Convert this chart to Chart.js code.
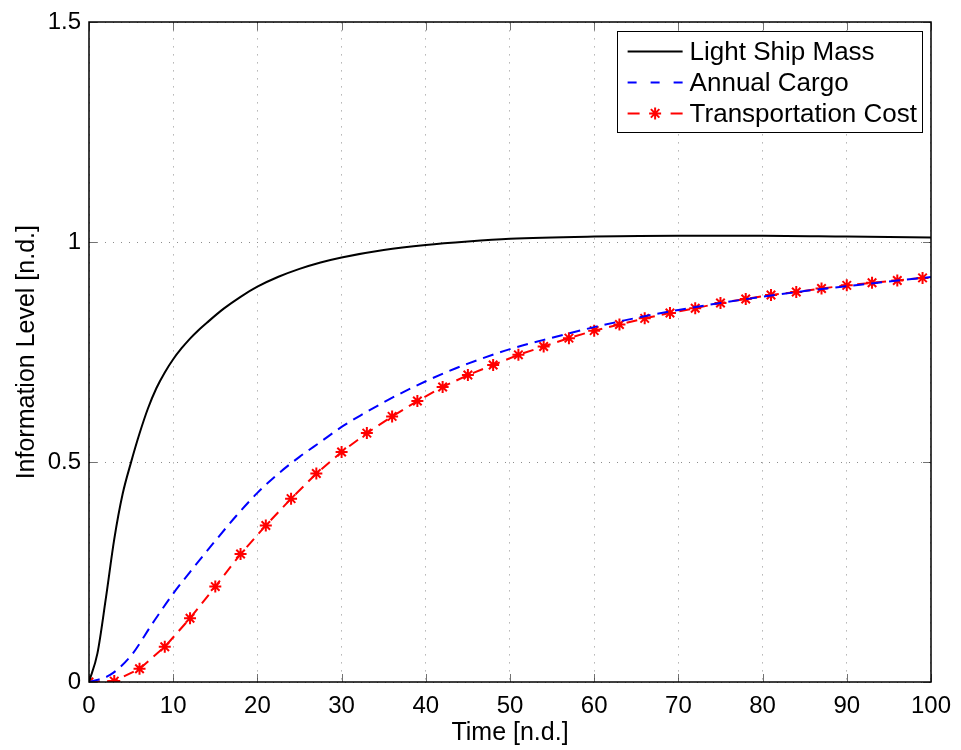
<!DOCTYPE html>
<html lang="en">
<head>
  <meta charset="UTF-8">
  <title>Information Level vs Time</title>
  <script src="https://cdn.jsdelivr.net/npm/chart.js"></script>
  <style>
    html, body { margin: 0; padding: 0; background: #fff; }
    #wrap { width: 961px; height: 750px; position: relative; }
  </style>
</head>
<body>
  <div id="wrap"><canvas id="infoChart"></canvas></div>

  <script>
    // Light Ship Mass
    const massTime  = [0, 1, 2, 3, 4, 5, 6, 7, 8, 9, 10, 11, 12, 13, 14, 16, 18, 20, 22.5, 25, 27.5, 30, 35, 40, 45, 50, 60, 70, 80, 90, 100];
    const massLevel = [0, 0.065, 0.19, 0.325, 0.428, 0.5, 0.565, 0.622, 0.668, 0.704, 0.734, 0.759, 0.781, 0.8, 0.817, 0.849, 0.876, 0.899, 0.9215, 0.9395, 0.954, 0.9655, 0.9825, 0.994, 1.002, 1.008, 1.013, 1.015, 1.015, 1.013, 1.011];

    // Annual Cargo
    const cargoTime  = [0, 2.5, 5, 7.5, 10, 12.5, 15, 17.5, 20, 22.5, 25, 27.5, 30, 32.5, 35, 37.5, 40, 42.5, 45, 50, 55, 60, 65, 70, 75, 80, 85, 90, 95, 100];
    const cargoLevel = [0, 0.016, 0.06, 0.132, 0.201, 0.262, 0.321, 0.378, 0.43, 0.474, 0.512, 0.546, 0.58, 0.609, 0.636, 0.661, 0.684, 0.705, 0.724, 0.757, 0.783, 0.807, 0.828, 0.846, 0.862, 0.876, 0.889, 0.9, 0.911, 0.921];

    // Transportation Cost (sampled every 3 time units)
    const costTime  = [0, 3, 6, 9, 12, 15, 18, 21, 24, 27, 30, 33, 36, 39, 42, 45, 48, 51, 54, 57, 60, 63, 66, 69, 72, 75, 78, 81, 84, 87, 90, 93, 96, 99];
    const costLevel = [0, 0.002, 0.03, 0.08, 0.145, 0.217, 0.291, 0.356, 0.417, 0.474, 0.523, 0.566, 0.604, 0.639, 0.671, 0.698, 0.721, 0.744, 0.763, 0.782, 0.799, 0.813, 0.827, 0.839, 0.85, 0.862, 0.871, 0.88, 0.887, 0.895, 0.902, 0.908, 0.913, 0.919];

    const xTicks = [0, 10, 20, 30, 40, 50, 60, 70, 80, 90, 100];
    const yTicks = [0, 0.5, 1, 1.5];

    const FONT = '"Liberation Sans", Arial, Helvetica, sans-serif';
    const toPoints = (xs, ys) => xs.map((x, i) => ({ x: x, y: ys[i] }));

    // box around the axes + inward tick marks on all four sides
    const axesFrame = {
      id: 'axesFrame',
      afterDatasetsDraw(chart) {
        const { ctx, chartArea: a, scales } = chart;
        const tl = 8;
        ctx.save();
        ctx.strokeStyle = 'rgba(0,0,0,0.55)';
        ctx.lineWidth = 1;
        ctx.beginPath();
        xTicks.forEach(v => {
          const px = Math.round(scales.x.getPixelForValue(v)) + 0.5;
          ctx.moveTo(px, a.bottom); ctx.lineTo(px, a.bottom - tl);
          ctx.moveTo(px, a.top); ctx.lineTo(px, a.top + tl);
        });
        yTicks.forEach(v => {
          const py = Math.round(scales.y.getPixelForValue(v)) + 0.5;
          ctx.moveTo(a.left, py); ctx.lineTo(a.left + tl, py);
          ctx.moveTo(a.right, py); ctx.lineTo(a.right - tl, py);
        });
        ctx.stroke();
        ctx.strokeStyle = '#000';
        ctx.lineWidth = 1.5;
        ctx.strokeRect(Math.round(a.left), Math.round(a.top), Math.round(a.right - a.left), Math.round(a.bottom - a.top));
        ctx.restore();
      }
    };

    // legend box in the upper right corner of the plot
    const boxLegend = {
      id: 'boxLegend',
      afterDraw(chart) {
        const { ctx, chartArea: a } = chart;
        const sets = chart.data.datasets;
        ctx.save();
        ctx.font = '26px ' + FONT;
        const textW = Math.max(...sets.map(d => ctx.measureText(d.label).width));
        const sampleW = 55, padL = 11, gap = 7;
        const w = padL + sampleW + gap + textW + 5;
        const h = 101;
        const right = a.right - 9, top = a.top + 9;
        const left = right - w;
        ctx.fillStyle = '#fff';
        ctx.fillRect(left, top, w, h);
        ctx.strokeStyle = '#000';
        ctx.lineWidth = 1;
        ctx.strokeRect(Math.round(left) + 0.5, Math.round(top) + 0.5, Math.round(w), Math.round(h));

        sets.forEach((d, i) => {
          const cy = top + 20 + i * 31;
          const x0 = left + padL, x1 = x0 + sampleW;
          ctx.strokeStyle = d.borderColor;
          ctx.lineWidth = d.borderWidth;
          ctx.beginPath();
          if (d.pointStyle === 'star') {
            // dashes either side of the marker
            ctx.setLineDash([]);
            ctx.moveTo(x0, cy); ctx.lineTo(x0 + 12, cy);
            ctx.moveTo(x1 - 12, cy); ctx.lineTo(x1, cy);
          } else {
            ctx.setLineDash(d.borderDash ? [9, 14] : []);
            ctx.moveTo(x0, cy); ctx.lineTo(x1, cy);
          }
          ctx.stroke();
          if (d.pointStyle === 'star') {
            ctx.setLineDash([]);
            ctx.strokeStyle = d.pointBorderColor;
            ctx.lineWidth = d.pointBorderWidth;
            Chart.helpers.drawPoint(ctx, { pointStyle: 'star', radius: d.pointRadius, rotation: 0, borderWidth: d.pointBorderWidth }, (x0 + x1) / 2, cy);
          }
          ctx.setLineDash([]);
          ctx.fillStyle = '#000';
          ctx.textBaseline = 'middle';
          ctx.textAlign = 'left';
          ctx.fillText(d.label, x1 + gap, cy + 1);
        });
        ctx.restore();
      }
    };

    new Chart(document.getElementById('infoChart'), {
      type: 'line',
      data: {
        datasets: [
          {
            label: 'Light Ship Mass',
            data: toPoints(massTime, massLevel),
            borderColor: '#000',
            borderWidth: 2,
            pointRadius: 0,
            cubicInterpolationMode: 'monotone'
          },
          {
            label: 'Annual Cargo',
            data: toPoints(cargoTime, cargoLevel),
            borderColor: '#0000ff',
            borderWidth: 2,
            borderDash: [11, 7],
            pointRadius: 0,
            cubicInterpolationMode: 'monotone'
          },
          {
            label: 'Transportation Cost',
            data: toPoints(costTime, costLevel),
            borderColor: '#ff0000',
            borderWidth: 2,
            borderDash: [11, 7],
            pointStyle: 'star',
            pointRadius: 6,
            pointBorderWidth: 2,
            pointBorderColor: '#ff0000',
            pointBackgroundColor: '#ff0000',
            tension: 0
          }
        ]
      },
      options: {
        responsive: true,
        maintainAspectRatio: false,
        animation: false,
        layout: { padding: { top: 19, right: 30, left: 0, bottom: 0 } },
        scales: {
          x: {
            type: 'linear',
            min: 0,
            max: 100,
            afterBuildTicks: s => { s.ticks = xTicks.map(v => ({ value: v })); },
            afterFit: s => { s.height = 68; },
            ticks: { color: '#000', font: { family: FONT, size: 24 }, padding: 10, maxRotation: 0, autoSkip: false },
            grid: { color: 'rgba(0,0,0,0.45)', lineWidth: 1, drawTicks: false },
            border: { display: false, dash: [1, 7] },
            title: { display: true, text: 'Time [n.d.]', color: '#000', font: { family: FONT, size: 25 }, padding: { top: 0, bottom: 2 } }
          },
          y: {
            type: 'linear',
            min: 0,
            max: 1.5,
            afterBuildTicks: s => { s.ticks = yTicks.map(v => ({ value: v })); },
            afterFit: s => { s.width = 89; },
            ticks: { color: '#000', font: { family: FONT, size: 24 }, padding: 8, callback: v => String(v) },
            grid: { color: 'rgba(0,0,0,0.45)', lineWidth: 1, drawTicks: false },
            border: { display: false, dash: [1, 7] },
            title: { display: true, text: 'Information Level [n.d.]', color: '#000', font: { family: FONT, size: 25 }, padding: { top: 12, bottom: 0 } }
          }
        },
        plugins: {
          legend: { display: false },
          tooltip: { enabled: false }
        }
      },
      plugins: [axesFrame, boxLegend]
    });
  </script>
</body>
</html>
